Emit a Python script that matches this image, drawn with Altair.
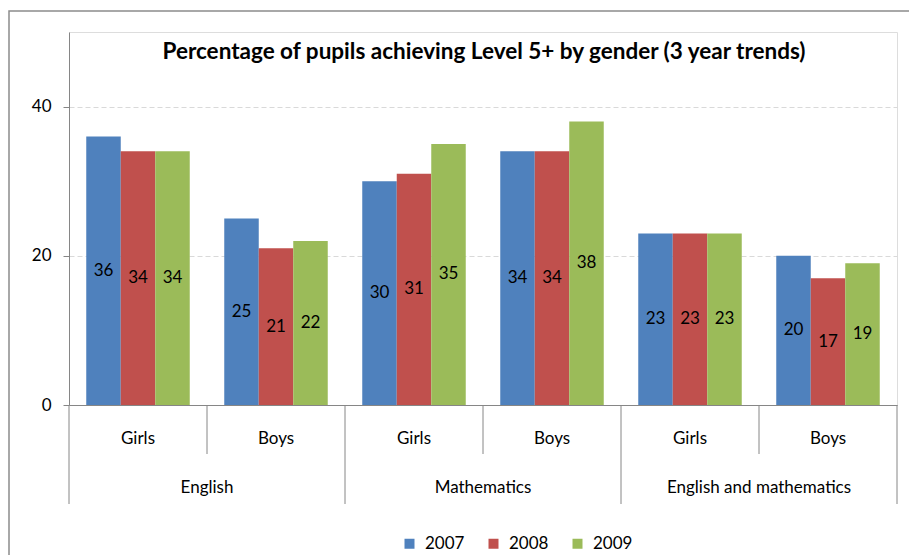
import altair as alt
import pandas as pd

# ---- data ----
subjects = ["English", "English", "Mathematics", "Mathematics",
            "English and mathematics", "English and mathematics"]
genders = ["Girls", "Boys", "Girls", "Boys", "Girls", "Boys"]
years = ["2007", "2008", "2009"]
v2007 = [36, 25, 30, 34, 23, 20]
v2008 = [34, 21, 31, 34, 23, 17]
v2009 = [34, 22, 35, 38, 23, 19]
colors = ["#4f81bd", "#c0504d", "#9bbb59"]
title_text = "Percentage of pupils achieving Level 5+ by gender (3 year trends)"

keys = [f"{s}|{g}" for s, g in zip(subjects, genders)]
rows = []
for i, k in enumerate(keys):
    for yr, vals in zip(years, [v2007, v2008, v2009]):
        rows.append({"key": k, "subject": subjects[i], "gender": genders[i],
                     "year": yr, "value": vals[i]})
df = pd.DataFrame(rows)
cat_df = pd.DataFrame({"key": keys, "subject": subjects, "gender": genders})

W, H = 828, 373
FONT = "Lato"
GRAY = "#868686"

xscale = alt.Scale(domain=keys, paddingInner=0, paddingOuter=0)
xaxis = alt.Axis(labels=False, ticks=False, title=None, domainColor=GRAY,
                 domainWidth=1, grid=False)
yscale = alt.Scale(domain=[0, 50], nice=False, zero=True)
yaxis = alt.Axis(values=[0, 20, 40], title=None, grid=True, gridDash=[5, 3],
                 gridColor="#d9d9d9", gridWidth=1, tickSize=6, tickColor=GRAY,
                 domainColor=GRAY, labelFontSize=17, labelFont=FONT,
                 labelColor="#000000", labelPadding=12)

base = alt.Chart(df)

bars = base.mark_bar().encode(
    x=alt.X("key:N", scale=xscale, axis=xaxis, sort=keys),
    xOffset=alt.XOffset("year:N", sort=years,
                        scale=alt.Scale(paddingOuter=0.5, paddingInner=0)),
    y=alt.Y("value:Q", scale=yscale, axis=yaxis),
    color=alt.Color("year:N", scale=alt.Scale(domain=years, range=colors),
                    legend=alt.Legend(orient="none", legendX=332, legendY=503,
                                      direction="horizontal", title=None,
                                      symbolType="square", symbolSize=100,
                                      symbolStrokeWidth=0, labelFontSize=17,
                                      labelFont=FONT, labelColor="#000000",
                                      labelOffset=7, columnPadding=20,
                                      padding=0)),
)

labels = base.transform_calculate(mid="datum.value / 2").mark_text(
    font=FONT, fontSize=17, color="#000000", baseline="middle"
).encode(
    x=alt.X("key:N", scale=xscale, axis=xaxis, sort=keys),
    xOffset=alt.XOffset("year:N", sort=years),
    y=alt.Y("mid:Q", scale=yscale, axis=yaxis),
    text=alt.Text("value:Q"),
)

cats = alt.Chart(cat_df)

short_rules = cats.transform_filter(alt.datum.gender == "Boys").mark_rule(
    color=GRAY, strokeWidth=1
).encode(
    x=alt.X("key:N", scale=xscale, axis=xaxis, bandPosition=0),
    y=alt.value(H), y2=alt.value(H + 49),
)
long_rules = cats.transform_filter(alt.datum.gender == "Girls").mark_rule(
    color=GRAY, strokeWidth=1
).encode(
    x=alt.X("key:N", scale=xscale, axis=xaxis, bandPosition=0),
    y=alt.value(H), y2=alt.value(H + 99),
)
end_rule = cats.transform_filter(alt.datum.key == keys[-1]).mark_rule(
    color=GRAY, strokeWidth=1
).encode(
    x=alt.X("key:N", scale=xscale, axis=xaxis, bandPosition=1),
    y=alt.value(H), y2=alt.value(H + 99),
)

gender_text = cats.mark_text(font=FONT, fontSize=17, color="#000000",
                             baseline="middle").encode(
    x=alt.X("key:N", scale=xscale, axis=xaxis, bandPosition=0.5),
    y=alt.value(H + 34),
    text="gender:N",
)
subject_text = cats.transform_filter(alt.datum.gender == "Boys").mark_text(
    font=FONT, fontSize=17, color="#000000", baseline="middle"
).encode(
    x=alt.X("key:N", scale=xscale, axis=xaxis, bandPosition=0),
    y=alt.value(H + 83),
    text="subject:N",
)

title_mark = alt.Chart(pd.DataFrame({"title": [title_text]})).mark_text(
    font=FONT, fontSize=22.5, fontWeight="bold", color="#000000",
    baseline="alphabetic", align="center"
).encode(
    x=alt.value(W / 2 + 1), y=alt.value(27), text="title:N",
)

border = alt.Chart(pd.DataFrame({"frame": [0]})).mark_rect(
    fillOpacity=0, stroke="#8c8c8c", strokeWidth=1.5
).encode(
    x=alt.value(-60), x2=alt.value(W + 30),
    y=alt.value(-21), y2=alt.value(H + 200),
)

chart = alt.layer(
    border, bars, labels, long_rules, short_rules, end_rule,
    gender_text, subject_text, title_mark
).properties(
    width=W, height=H,
    autosize=alt.AutoSizeParams(type="none"),
    padding={"left": 69, "top": 32, "right": 12, "bottom": 150},
).configure_view(stroke=None).configure(background="white")

chart.save("out.html", embed_options={"renderer": "svg", "actions": False})
